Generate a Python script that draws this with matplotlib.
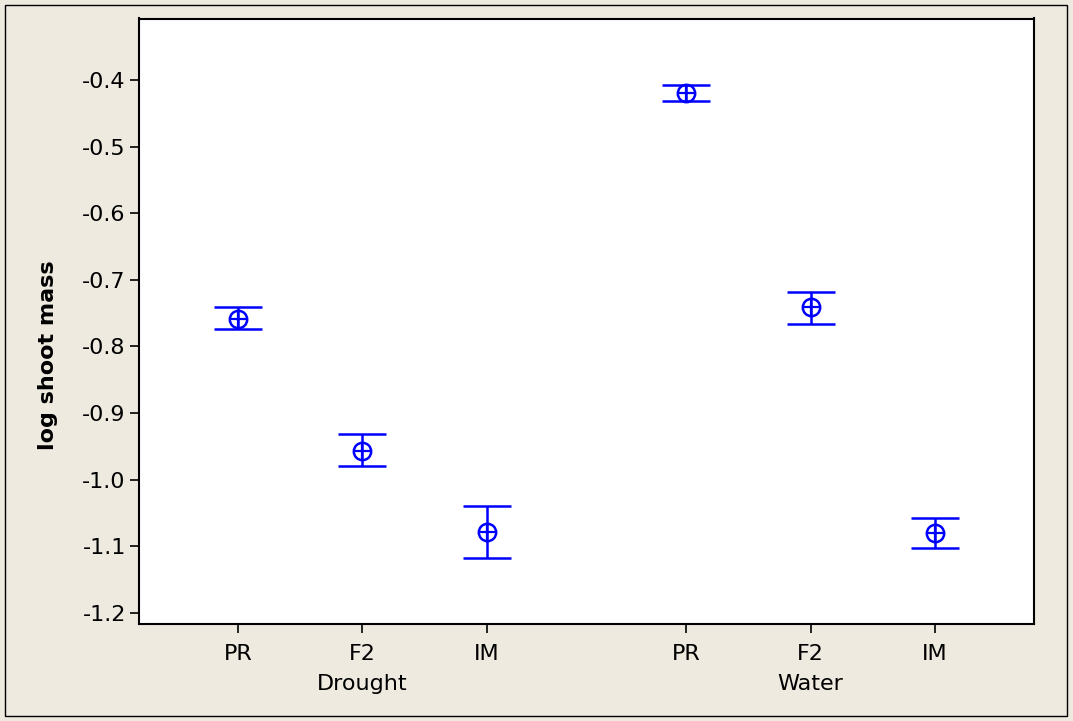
import matplotlib.pyplot as plt
from matplotlib.patches import Rectangle
import matplotlib.transforms as mtransforms

# group means and interval ends for log shoot mass
groups = ["Drought", "Water"]
levels = ["PR", "F2", "IM"]
means = [-0.758, -0.957, -1.078, -0.420, -0.741, -1.080]
upper = [-0.741, -0.931, -1.040, -0.407, -0.718, -1.058]
lower = [-0.774, -0.980, -1.117, -0.432, -0.766, -1.103]
positions = [1, 2, 3, 4.6, 5.6, 6.6]
tick_labels = levels + levels
yticks = [-0.4, -0.5, -0.6, -0.7, -0.8, -0.9, -1.0, -1.1, -1.2]

bg = "#eeeae0"
blue = "#0000ff"

fig = plt.figure(figsize=(10.73, 7.21), dpi=100, facecolor=bg)
ax = fig.add_axes([139 / 1073, 1 - 623.5 / 721, (1034 - 139) / 1073, (623.5 - 18.5) / 721])
ax.set_facecolor("white")

# frame around the whole figure
fig.patches.append(Rectangle((5 / 1073, 5 / 721), 1062 / 1073, 711 / 721,
                             transform=fig.transFigure, fill=False,
                             edgecolor="black", linewidth=1.0))

yerr_lo = [m - l for m, l in zip(means, lower)]
yerr_hi = [u - m for m, u in zip(means, upper)]
ax.errorbar(positions, means, yerr=[yerr_lo, yerr_hi], fmt="none",
            ecolor=blue, elinewidth=1.8, capsize=17, capthick=1.8)
ax.plot(positions, means, "o", mfc="none", mec=blue, mew=1.8, ms=12.5)
ax.plot(positions, means, "+", mec=blue, mew=1.6, ms=12.5)

ax.set_xlim(0.205, 7.395)
ax.set_ylim(-1.2158, -0.3077)
ax.set_xticks(positions)
ax.set_xticklabels(tick_labels)
ax.set_yticks(yticks)
ax.set_yticklabels([f"{v:.1f}" for v in yticks])
ax.tick_params(direction="out", length=6.5, width=1.2, labelsize=16, pad=3)
ax.tick_params(axis="x", pad=8)
for s in ax.spines.values():
    s.set_linewidth(1.5)

trans = mtransforms.blended_transform_factory(ax.transData, fig.transFigure)
for i, g in enumerate(groups):
    cx = sum(positions[i * 3:(i + 1) * 3]) / 3
    ax.text(cx, 1 - 684 / 721, g, transform=trans, ha="center", va="center",
            fontsize=16)

fig.text(48 / 1073, 1 - 355 / 721, "log shoot mass", rotation=90, ha="center",
         va="center", fontsize=16, fontweight="bold")

fig.savefig("out.png", dpi=100, facecolor=bg)
